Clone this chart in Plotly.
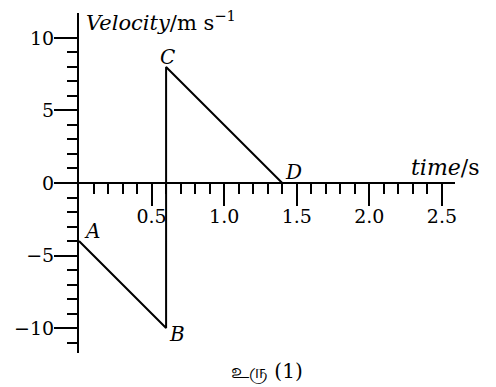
import plotly.graph_objects as go

# points of the velocity-time graph
point_names = ["A", "B", "C", "D"]
time_s = [0, 0.6, 0.6, 1.4]
velocity = [-4, -10, 8, 0]

x_ticks = [0.5, 1.0, 1.5, 2.0, 2.5]
x_tick_text = ["0.5", "1.0", "1.5", "2.0", "2.5"]
x_minor = [0.1, 0.2, 0.3, 0.4, 0.6, 0.7, 0.8, 0.9, 1.1, 1.2, 1.3, 1.4,
           1.6, 1.7, 1.8, 1.9, 2.1, 2.2, 2.3, 2.4]
y_ticks = [-10, -5, 0, 5, 10]
y_minor = [-11, -9, -8, -7, -6, -4, -3, -2, -1, 1, 2, 3, 4, 6, 7, 8, 9]

W, H = 496, 387
PAGE_PAD = 8  # default body margin of the html page
FONT = "DejaVu Serif"
FS = 19


def px(x, y):
    # window pixel -> paper coordinates
    return (x - PAGE_PAD) / W, 1 - (y - PAGE_PAD) / H


fig = go.Figure()
fig.add_trace(go.Scatter(x=time_s, y=velocity, mode="lines",
                         line=dict(color="black", width=2), showlegend=False,
                         hoverinfo="skip"))

# labels for A, B, C, D  (xshift, yshift, xanchor)
offsets = {"A": (3, 10, "left"), "B": (1, -6, "left"),
           "C": (1, 10, "center"), "D": (1, 11, "left")}
for name, tx, vy in zip(point_names, time_s, velocity):
    dx, dy, anc = offsets[name]
    fig.add_annotation(x=tx, y=vy, text=f"<i>{name}</i>", showarrow=False,
                       xanchor=anc, yanchor="middle", xshift=dx, yshift=dy,
                       font=dict(family=FONT, size=20, color="black"))

x0, _ = px(79, 0)
x1, _ = px(455, 0)
_, yb = px(0, 353)
_, yt = px(0, 13)
_, yzero = px(0, 183)

fig.update_layout(
    width=W, height=H,
    margin=dict(l=0, r=0, t=0, b=0, autoexpand=False),
    plot_bgcolor="white", paper_bgcolor="white",
    font=dict(family=FONT, size=FS, color="black"),
    xaxis=dict(domain=[x0, x1], range=[0, 2.59], anchor="free", position=yzero,
               showline=True, linecolor="black", linewidth=2,
               showgrid=False, zeroline=False,
               tickmode="array", tickvals=x_ticks, ticktext=x_tick_text,
               ticks="outside", ticklen=22, tickwidth=2, tickcolor="black",
               ticklabelstandoff=-6,
               minor=dict(tickmode="array", tickvals=x_minor, ticks="outside",
                          ticklen=10, tickwidth=2, tickcolor="black", showgrid=False),
               tickfont=dict(family=FONT, size=FS)),
    yaxis=dict(domain=[yb, yt], range=[-11.72, 11.72],
               showline=True, linecolor="black", linewidth=2,
               showgrid=False, zeroline=True, zerolinecolor="black", zerolinewidth=2,
               tickmode="array", tickvals=y_ticks,
               ticks="outside", ticklen=23, tickwidth=2, tickcolor="black",
               ticklabelstandoff=-4,
               minor=dict(tickmode="array", tickvals=y_minor, ticks="outside",
                          ticklen=10, tickwidth=2, tickcolor="black", showgrid=False),
               tickfont=dict(family=FONT, size=FS)),
)

# axis titles and caption
ax, ay = px(84, 21)
fig.add_annotation(xref="paper", yref="paper", x=ax, y=ay,
                   text="<i>Velocity</i>/m s<sup>−1</sup>", showarrow=False,
                   xanchor="left", yanchor="middle",
                   font=dict(family=FONT, size=21, color="black"))
tx_, ty_ = px(481, 168)
fig.add_annotation(xref="paper", yref="paper", x=tx_, y=ty_,
                   text="<i>time</i>/s", showarrow=False,
                   xanchor="right", yanchor="middle",
                   font=dict(family=FONT, size=22, color="black"))
cx, cy = px(267, 371)
fig.add_annotation(xref="paper", yref="paper", x=cx, y=cy,
                   text="உரு (1)", showarrow=False,
                   xanchor="center", yanchor="middle",
                   font=dict(family=FONT, size=20, color="black"))

fig.write_html("out.html")
